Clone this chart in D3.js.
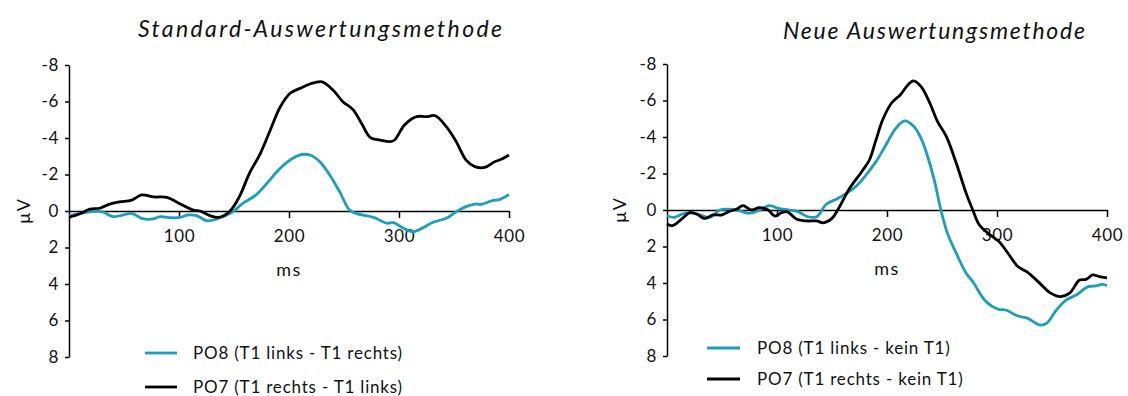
<!DOCTYPE html>
<html>
<head>
<meta charset="utf-8">
<script src="https://cdn.jsdelivr.net/npm/d3@7"></script>
<style>
  html, body { margin: 0; padding: 0; background: #fff; }
  svg { display: block; font-family: Lato, "Open Sans", sans-serif; }
  .axis path, .axis line { stroke: #000; stroke-width: 1.5px; }
  .axis text { font-size: 17px; fill: #111; font-family: Lato, sans-serif; letter-spacing: 0.6px; }
</style>
</head>
<body>
<svg id="chart" width="1128" height="396"></svg>
<script>
// Time axis (ms) and voltage axis (µV, negative plotted upward)
const xTicks = [100, 200, 300, 400];
const yTicks = [-8, -6, -4, -2, 0, 2, 4, 6, 8];
const yTickLabels = ["-8", "-6", "-4", "-2", "0", "2", "4", "6", "8"];

// Panel titles and legend labels
const titles = ["Standard-Auswertungsmethode", "Neue Auswertungsmethode"];
const legendLeft = ["PO8 (T1 links - T1 rechts)", "PO7 (T1 rechts - T1 links)"];
const legendRight = ["PO8 (T1 links - kein T1)", "PO7 (T1 rechts - kein T1)"];

// Standard method: PO8 difference wave
const stdPO8Ms = [0,10,19,30,40,49,57,66,75,83,92,101,108,116,125,134,140,149,158,170,180,189,199,210,219,228,237,246,255,261,277,289,295,304,313,322,331,343,352,361,369,375,384,392,400];
const stdPO8Uv = [0.27,0.13,0.04,0.04,0.31,0.22,0.13,0.4,0.45,0.31,0.37,0.35,0.22,0.25,0.53,0.45,0.31,0.04,-0.42,-0.88,-1.52,-2.15,-2.7,-3.07,-3.07,-2.7,-1.97,-1.06,-0.05,0.13,0.35,0.67,0.64,0.95,1.13,0.91,0.62,0.4,0.04,-0.24,-0.38,-0.37,-0.56,-0.64,-0.91];

// Standard method: PO7 difference wave
const stdPO7Ms = [0,10,19,28,37,46,57,66,77,89,99,113,119,128,136,146,155,164,174,183,192,201,210,219,230,240,249,258,266,274,283,292,296,305,316,325,333,343,352,361,369,378,387,393,400];
const stdPO7Uv = [0.35,0.15,-0.1,-0.15,-0.38,-0.5,-0.6,-0.88,-0.77,-0.75,-0.45,-0.05,0,0.25,0.35,0.03,-0.8,-2.06,-3.16,-4.44,-5.7,-6.45,-6.72,-6.96,-7.08,-6.63,-5.99,-5.57,-4.8,-4.02,-3.89,-3.8,-3.89,-4.71,-5.17,-5.17,-5.22,-4.62,-3.8,-2.79,-2.43,-2.39,-2.7,-2.83,-3.07];

// New method: PO8 difference wave
const newPO8Ms = [0,7,14,21,30,39,48,58,66,74,83,93,101,110,119,128,136,145,154,163,172,181,190,199,208,216,224,231,237,243,249,255,263,272,278,290,301,308,319,328,339,345,354,363,372,383,390,396,400];
const newPO8Uv = [0.33,0.4,0.22,0.15,0.27,0.4,0,-0.04,0.04,0.18,0.04,-0.24,-0.09,0,0.09,0.37,0.37,-0.33,-0.59,-0.91,-1.31,-1.92,-2.65,-3.56,-4.47,-4.88,-4.6,-3.93,-2.92,-1.64,0,1.28,2.37,3.47,3.93,5.02,5.44,5.48,5.81,5.94,6.3,6.21,5.48,4.93,4.66,4.2,4.16,4.07,4.15];

// New method: PO7 difference wave
const newPO7Ms = [0,5,13,21,27,34,42,50,56,63,69,77,84,92,98,104,109,118,127,136,142,150,156,166,177,184,190,196,204,212,219,224,231,239,246,254,263,272,278,284,292,302,310,319,327,339,348,358,366,375,381,387,393,400];
const newPO7Uv = [0.77,0.86,0.51,0.15,0.22,0.46,0.27,0.27,0.09,-0.04,-0.24,0,-0.13,0,0.33,0.15,0.09,0.51,0.6,0.6,0.7,0.46,-0.09,-1.19,-2.1,-2.74,-3.84,-4.93,-5.85,-6.3,-6.85,-7.08,-6.76,-5.85,-4.84,-4.02,-2.56,-0.91,0,0.82,1.28,1.74,2.37,3.1,3.38,4.02,4.53,4.75,4.56,3.84,3.8,3.56,3.65,3.72];

const colorPO8 = "#1b9fb8";
const colorPO7 = "#000000";

const svg = d3.select("#chart");

const panels = [
  {
    title: titles[0], titleX: 320, titleY: 37, titleW: 364,
    xRange: [69, 509], yRange: [65, 357],
    ylabX: 24,
    series: [
      { ms: stdPO8Ms, uv: stdPO8Uv, color: colorPO8, label: legendLeft[0] },
      { ms: stdPO7Ms, uv: stdPO7Uv, color: colorPO7, label: legendLeft[1] }
    ],
    legend: { x1: 145, x2: 177, tx: 193, ys: [353, 387] }
  },
  {
    title: titles[1], titleX: 934, titleY: 39, titleW: 302,
    xRange: [667, 1107], yRange: [64, 356],
    ylabX: 620,
    series: [
      { ms: newPO8Ms, uv: newPO8Uv, color: colorPO8, label: legendRight[0] },
      { ms: newPO7Ms, uv: newPO7Uv, color: colorPO7, label: legendRight[1] }
    ],
    legend: { x1: 707, x2: 740, tx: 757, ys: [348, 379] }
  }
];

panels.forEach(p => {
  const x = d3.scaleLinear().domain([0, 400]).range(p.xRange);
  const y = d3.scaleLinear().domain([-8, 8]).range(p.yRange);
  const g = svg.append("g");

  // Title, spread to its full width
  g.append("text")
    .attr("x", p.titleX).attr("y", p.titleY)
    .attr("text-anchor", "middle")
    .attr("textLength", p.titleW)
    .attr("lengthAdjust", "spacing")
    .style("font-style", "italic")
    .style("font-size", "23px")
    .style("fill", "#111")
    .text(p.title);

  // Vertical µV axis
  g.append("g").attr("class", "axis")
    .attr("transform", `translate(${p.xRange[0]},0)`)
    .call(d3.axisLeft(y).tickValues(yTicks)
      .tickFormat((d, i) => yTickLabels[i])
      .tickSize(4).tickSizeOuter(0).tickPadding(6));

  // Horizontal time axis through 0 µV
  g.append("g").attr("class", "axis")
    .attr("transform", `translate(0,${y(0)})`)
    .call(d3.axisBottom(x).tickValues(xTicks)
      .tickSize(7).tickSizeOuter(0).tickPadding(12));

  // Axis titles
  g.append("text")
    .attr("transform", `translate(${p.ylabX},${y(0)}) rotate(-90)`)
    .attr("text-anchor", "middle").attr("dy", "0.35em")
    .style("font-size", "18px").style("letter-spacing", "1px").style("fill", "#111")
    .text("µV");
  g.append("text")
    .attr("x", x(200)).attr("y", y(0) + 65)
    .attr("text-anchor", "middle")
    .style("font-size", "18px").style("letter-spacing", "1.5px").style("fill", "#111")
    .text("ms");

  // Waveforms
  const line = d3.line()
    .x(d => x(d[0])).y(d => y(d[1]))
    .curve(d3.curveCatmullRom.alpha(0.5));
  p.series.forEach(s => {
    g.append("path")
      .datum(s.ms.map((t, i) => [t, s.uv[i]]))
      .attr("fill", "none")
      .attr("stroke", s.color)
      .attr("stroke-width", 2.8)
      .attr("stroke-linejoin", "round")
      .attr("d", line);
  });

  // Legend
  p.series.forEach((s, i) => {
    const ly = p.legend.ys[i];
    g.append("line")
      .attr("x1", p.legend.x1).attr("x2", p.legend.x2)
      .attr("y1", ly).attr("y2", ly)
      .attr("stroke", s.color).attr("stroke-width", 2.8);
    g.append("text")
      .attr("x", p.legend.tx).attr("y", ly).attr("dy", "0.35em")
      .style("font-size", "17px").style("letter-spacing", "0.8px").style("fill", "#111")
      .text(s.label);
  });
});
</script>
</body>
</html>
